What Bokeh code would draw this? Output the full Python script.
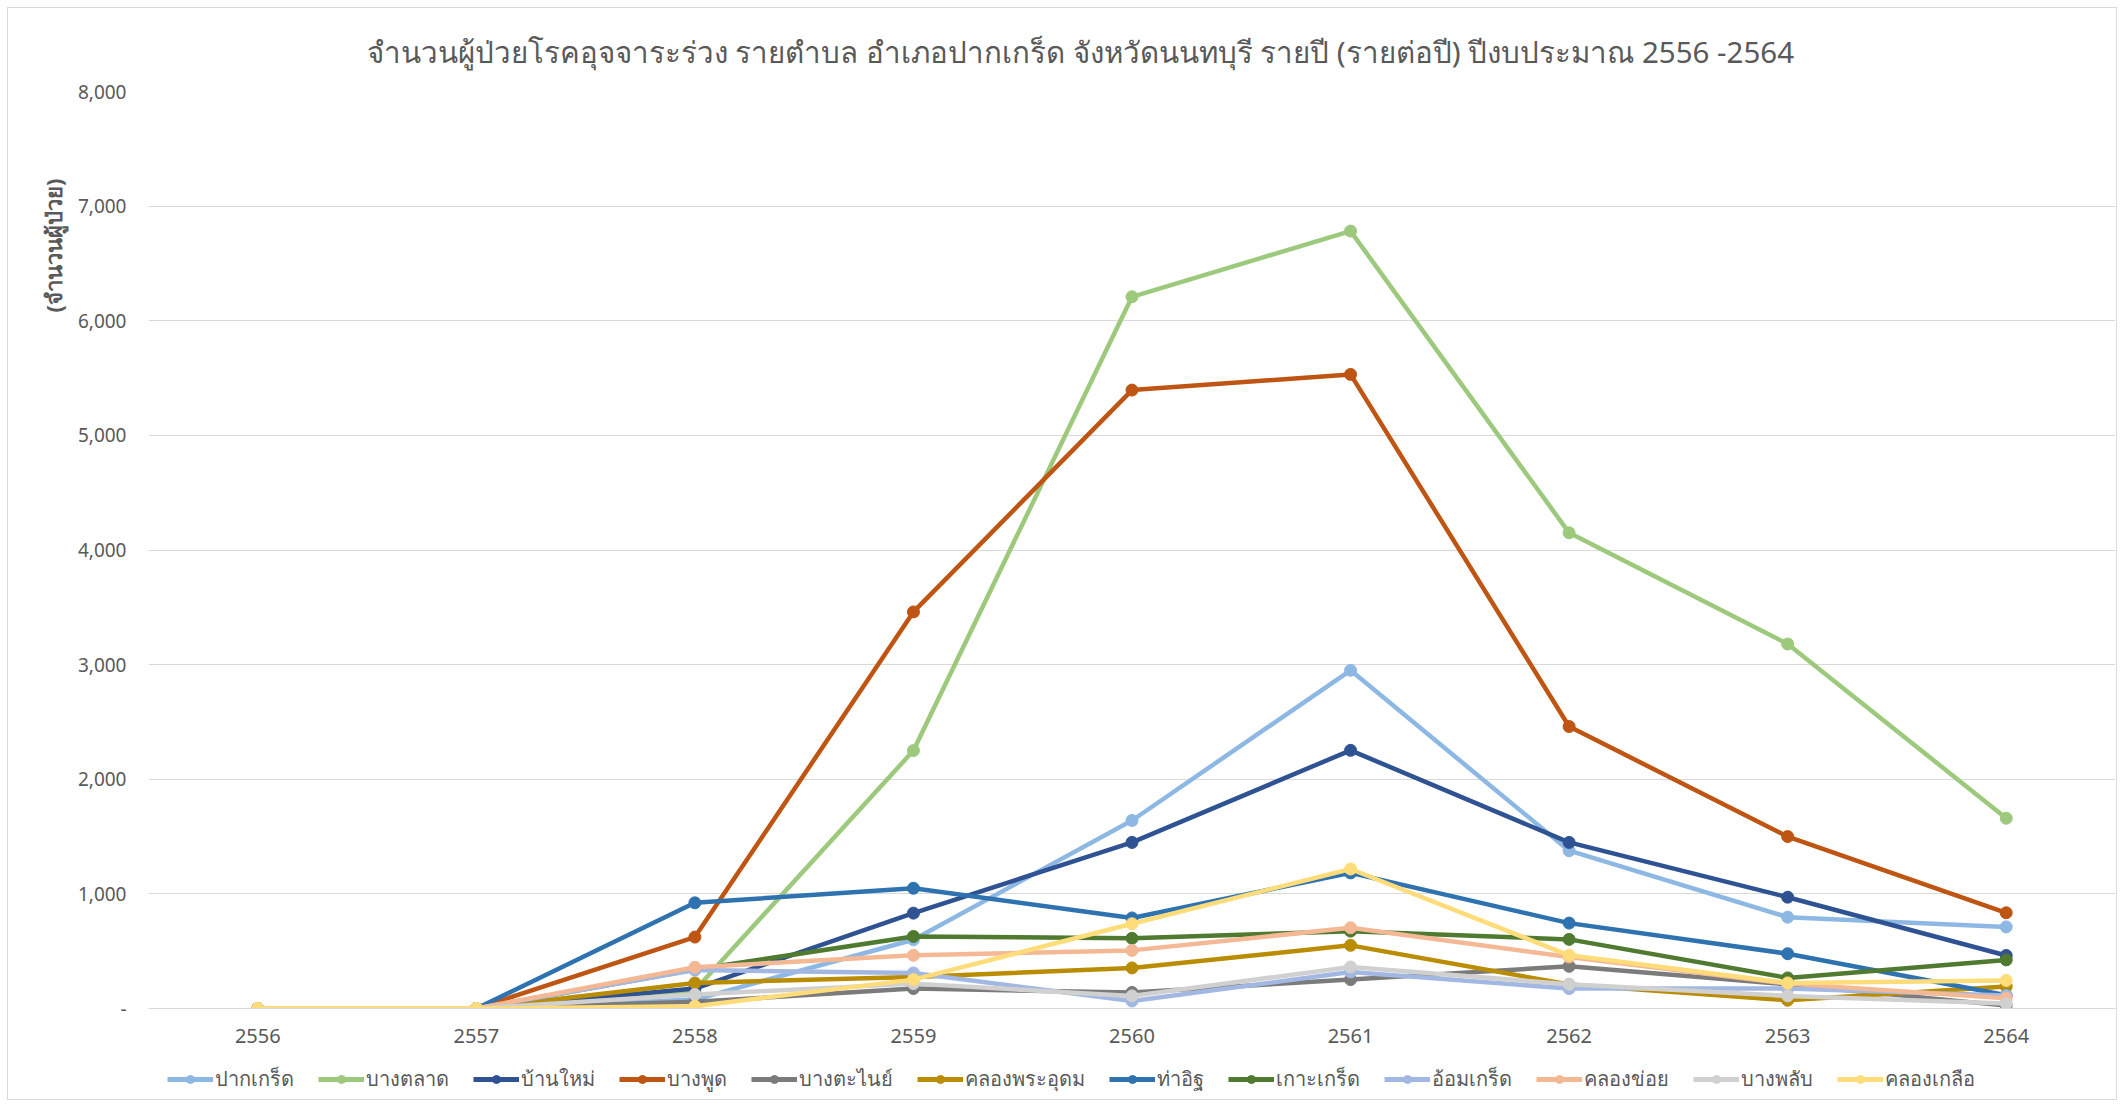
from bokeh.plotting import figure
from bokeh.layouts import column
from bokeh.models import (FactorRange, FixedTicker, CustomJSTickFormatter, Legend,
                          LegendItem, Title, ColumnDataSource, Range1d)
from bokeh.embed import file_html
from bokeh.resources import INLINE

years = ["2556", "2557", "2558", "2559", "2560", "2561", "2562", "2563", "2564"]

names = ["ปากเกร็ด", "บางตลาด", "บ้านใหม่", "บางพูด", "บางตะไนย์", "คลองพระอุดม",
         "ท่าอิฐ", "เกาะเกร็ด", "อ้อมเกร็ด", "คลองข่อย", "บางพลับ", "คลองเกลือ"]

pak_kret = [0, 0, 78, 600, 1640, 2950, 1377, 797, 712]
bang_talat = [0, 0, 160, 2250, 6209, 6782, 4150, 3180, 1660]
ban_mai = [0, 0, 174, 832, 1449, 2252, 1449, 971, 462]
bang_phut = [0, 0, 623, 3460, 5395, 5532, 2460, 1500, 835]
bang_tanai = [0, 0, 58, 174, 140, 252, 368, 210, 25]
khlong_phra_udom = [0, 0, 223, 275, 354, 551, 209, 72, 192]
tha_it = [0, 0, 922, 1049, 790, 1183, 745, 478, 115]
ko_kret = [0, 0, 340, 629, 612, 675, 603, 267, 424]
om_kret = [0, 0, 335, 310, 65, 319, 174, 174, 113]
khlong_khoi = [0, 0, 360, 464, 507, 704, 449, 217, 90]
bang_phlap = [0, 0, 122, 217, 110, 362, 212, 110, 43]
khlong_kluea = [0, 0, 20, 252, 739, 1217, 464, 223, 245]

series = [pak_kret, bang_talat, ban_mai, bang_phut, bang_tanai, khlong_phra_udom,
          tha_it, ko_kret, om_kret, khlong_khoi, bang_phlap, khlong_kluea]

colors = ["#8EB8E4", "#9DC97D", "#2F5392", "#BF5512", "#7B7B7B", "#BA8C00",
          "#2E72B0", "#4F7A30", "#A2B8E2", "#F4B894", "#D0D0D0", "#FFDC7A"]

y_ticks = [0, 1000, 2000, 3000, 4000, 5000, 6000, 7000, 8000]

title_text = "จำนวนผู้ป่วยโรคอุจจาระร่วง รายตำบล อำเภอปากเกร็ด จังหวัดนนทบุรี รายปี (รายต่อปี) ปีงบประมาณ 2556 -2564"
y_title = "(จำนวนผู้ป่วย)"

FONT = "Noto Sans"
TXT = "#595959"
W = 2108
LW = 4.5
MS = 12

# ---------------- main chart ----------------
p = figure(width=W, height=1052, x_range=FactorRange(*years), y_range=(0, 8000),
           output_backend="svg", toolbar_location=None, title=title_text)
p.min_border_left = 140
p.min_border_right = 1
p.min_border_top = 81
p.min_border_bottom = 52
p.outline_line_color = None
p.border_fill_color = "white"

p.title.align = "left"
p.title.offset = 218
p.title.text_font = FONT
p.title.text_font_size = "29.5px"
p.title.text_font_style = "normal"
p.title.text_color = TXT
p.title.standoff = 40

p.xgrid.grid_line_color = None
p.ygrid.grid_line_color = "#D9D9D9"
p.ygrid.grid_line_width = 1

p.yaxis.ticker = FixedTicker(ticks=y_ticks)
p.yaxis.formatter = CustomJSTickFormatter(code="""
    return tick == 0 ? "-" : Math.round(tick).toLocaleString('en-US');
""")
p.yaxis.axis_line_color = None
p.yaxis.major_tick_line_color = None
p.yaxis.minor_tick_line_color = None
p.yaxis.major_label_text_font = FONT
p.yaxis.major_label_text_font_size = "19px"
p.yaxis.major_label_text_color = TXT
p.yaxis.major_label_standoff = 16

p.xaxis.axis_line_color = "#D9D9D9"
p.xaxis.major_tick_line_color = None
p.xaxis.minor_tick_line_color = None
p.xaxis.major_label_text_font = FONT
p.xaxis.major_label_text_font_size = "20px"
p.xaxis.major_label_text_color = TXT
p.xaxis.major_label_standoff = 14

ytitle = Title(text=y_title, align="right", offset=87, text_font=FONT,
               text_font_size="22px", text_font_style="bold", text_color=TXT,
               standoff=13)
p.add_layout(ytitle, "left")

# ---------------- legend strip (same data, kept out of its view) ----------------
lg = figure(width=W, height=39, x_range=p.x_range, y_range=Range1d(-2, -1),
            output_backend="svg", toolbar_location=None)
lg.axis.visible = False
lg.grid.visible = False
lg.outline_line_color = None
lg.min_border = 0

items = []
for name, vals, col in zip(names, series, colors):
    src = ColumnDataSource(dict(x=years, y=vals))
    p.line("x", "y", source=src, line_color=col, line_width=LW, line_join="round")
    p.scatter("x", "y", source=src, size=MS, fill_color=col, line_color=col)
    r1 = lg.line("x", "y", source=src, line_color=col, line_width=5)
    r2 = lg.scatter("x", "y", source=src, size=MS, fill_color=col, line_color=col)
    items.append(LegendItem(label=name, renderers=[r1, r2]))

legend = Legend(items=items, orientation="horizontal", location=(19, 4),
                glyph_width=46, glyph_height=20, label_text_font=FONT,
                label_text_font_size="20px", label_text_color=TXT,
                spacing=24, label_standoff=2, border_line_color=None,
                background_fill_alpha=0, padding=2, margin=0)
lg.add_layout(legend)

layout = column(p, lg, spacing=0)
layout.styles = {"border": "1px solid #D9D9D9", "margin": "7px"}

open("out.html", "w").write(file_html(layout, INLINE))
